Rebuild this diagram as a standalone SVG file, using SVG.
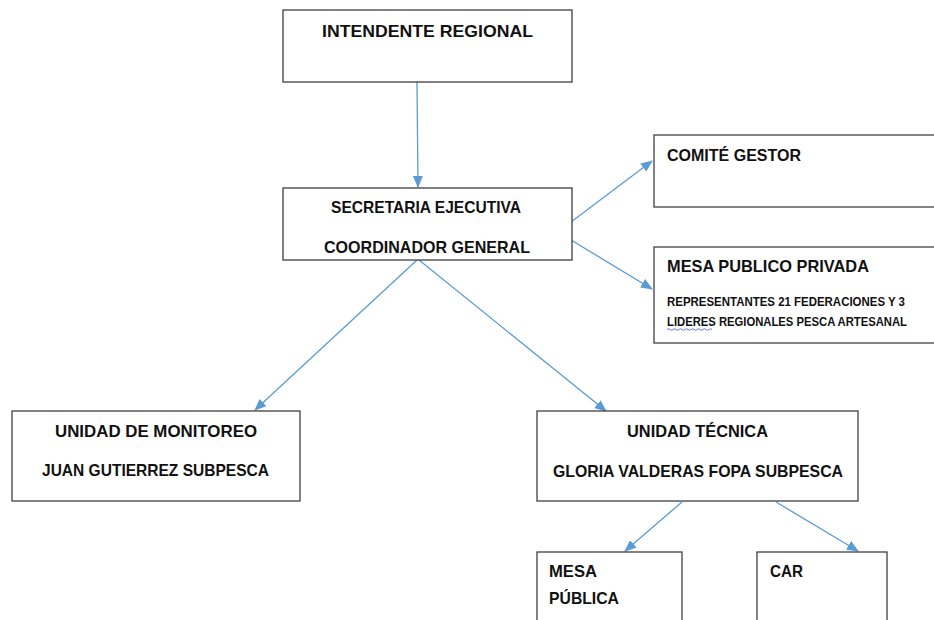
<svg xmlns="http://www.w3.org/2000/svg" width="934" height="620" viewBox="0 0 934 620">
<style>
.box{fill:#fff;stroke:#3f3f3f;stroke-width:1.3}
.t{font-family:"Liberation Sans",Arial,sans-serif;font-weight:bold;font-size:16.5px;fill:#111}
.s{font-family:"Liberation Sans",Arial,sans-serif;font-weight:bold;font-size:12px;fill:#111}
.c{text-anchor:middle}
.ln{stroke:#5b9bd5;stroke-width:1.3;fill:none;marker-end:url(#ah)}
</style>
<defs>
<marker id="ah" markerWidth="12" markerHeight="10" refX="11" refY="5" orient="auto" markerUnits="userSpaceOnUse">
<path d="M0,0 L12,5 L0,10 Z" fill="#5b9bd5"/>
</marker>
</defs>
<rect width="934" height="620" fill="#fff"/>
<g id="connectors">
<line class="ln" x1="417" y1="82" x2="418" y2="187"/>
<line class="ln" x1="571" y1="222" x2="652" y2="161"/>
<line class="ln" x1="571" y1="240" x2="652" y2="289"/>
<line class="ln" x1="417" y1="260" x2="255" y2="410"/>
<line class="ln" x1="419" y1="260" x2="606" y2="411"/>
<line class="ln" x1="682" y1="502" x2="625" y2="551"/>
<line class="ln" x1="776" y1="502" x2="858" y2="551"/>
</g>
<g id="intendente">
<rect class="box" x="283" y="10" width="289" height="72"/>
<text class="t c" x="427.5" y="37" textLength="211" lengthAdjust="spacingAndGlyphs">INTENDENTE REGIONAL</text>
</g>
<g id="secretaria">
<rect class="box" x="283" y="188" width="289" height="72"/>
<text class="t c" x="426" y="213" textLength="190" lengthAdjust="spacingAndGlyphs">SECRETARIA EJECUTIVA</text>
<text class="t c" x="427" y="253" textLength="206" lengthAdjust="spacingAndGlyphs">COORDINADOR GENERAL</text>
</g>
<g id="comite">
<rect class="box" x="654" y="135" width="290" height="72"/>
<text class="t" x="667" y="161" textLength="134" lengthAdjust="spacingAndGlyphs">COMITÉ GESTOR</text>
</g>
<g id="mesa-publico-privada">
<rect class="box" x="654" y="247" width="290" height="96"/>
<text class="t" x="667" y="272" textLength="202" lengthAdjust="spacingAndGlyphs">MESA PUBLICO PRIVADA</text>
<text class="s" x="667" y="306" textLength="238" lengthAdjust="spacingAndGlyphs">REPRESENTANTES 21 FEDERACIONES Y 3</text>
<text class="s" x="667" y="326" textLength="240" lengthAdjust="spacingAndGlyphs">LIDERES REGIONALES PESCA ARTESANAL</text>
<path d="M667,329.5 q1.5,-1.5 3,0 t3,0 t3,0 t3,0 t3,0 t3,0 t3,0 t3,0 t3,0 t3,0 t3,0 t3,0 t3,0 t3,0 t3,0" fill="none" stroke="#4a6fd8" stroke-width="0.9"/>
</g>
<g id="monitoreo">
<rect class="box" x="12" y="411" width="288" height="90"/>
<text class="t c" x="156" y="437" textLength="202" lengthAdjust="spacingAndGlyphs">UNIDAD DE MONITOREO</text>
<text class="t c" x="155.5" y="476" textLength="227" lengthAdjust="spacingAndGlyphs">JUAN GUTIERREZ SUBPESCA</text>
</g>
<g id="tecnica">
<rect class="box" x="537" y="411" width="321" height="90"/>
<text class="t c" x="697.5" y="437" textLength="141" lengthAdjust="spacingAndGlyphs">UNIDAD TÉCNICA</text>
<text class="t c" x="698" y="477" textLength="290" lengthAdjust="spacingAndGlyphs">GLORIA VALDERAS FOPA SUBPESCA</text>
</g>
<g id="mesa-publica">
<rect class="box" x="537" y="552" width="145" height="80"/>
<text class="t" x="549" y="577" textLength="48" lengthAdjust="spacingAndGlyphs">MESA</text>
<text class="t" x="549" y="604" textLength="70" lengthAdjust="spacingAndGlyphs">PÚBLICA</text>
</g>
<g id="car">
<rect class="box" x="757" y="552" width="130" height="80"/>
<text class="t" x="770" y="577" textLength="33" lengthAdjust="spacingAndGlyphs">CAR</text>
</g>
</svg>
